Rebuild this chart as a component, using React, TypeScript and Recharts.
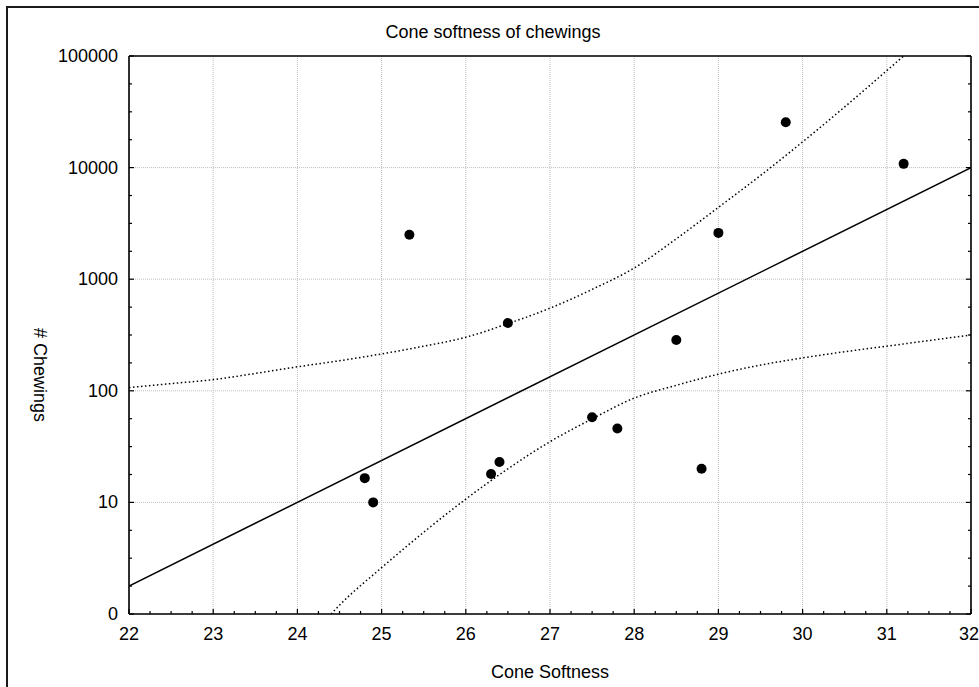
import React from 'react';
import { ComposedChart, Line, Scatter, XAxis, YAxis, CartesianGrid } from 'recharts';

// observed samples
const softness = [24.8, 24.9, 25.33, 26.3, 26.4, 26.5, 27.5, 27.8, 28.5, 28.8, 29.0, 29.8, 31.2];
const chewings = [16.5, 10, 2500, 18, 23, 405, 58, 46, 285, 20, 2600, 25500, 10800];

// fitted line (end points)
const fitX = [22, 32];
const fitY = [1.78, 10000];

// upper confidence band
const upperX = [22, 22.5, 23, 23.5, 24, 24.5, 25, 25.5, 26, 26.5, 27, 27.5, 28, 28.5, 29, 29.5, 30, 30.5, 31, 31.2];
const upperY = [107, 116, 126, 143, 164, 186, 214, 251, 302, 400, 550, 810, 1260, 2300, 4400, 8500, 17000, 35000, 74000, 100000];

// lower confidence band
const lowerX = [24.4, 24.5, 25, 25.5, 26, 26.5, 27, 27.5, 28, 28.5, 29, 29.5, 30, 30.5, 31, 31.5, 32];
const lowerY = [1, 1.2, 2.6, 5.4, 10.7, 20, 35, 56, 86, 112, 141, 170, 197, 224, 251, 282, 316];

const xTickValues = [22, 23, 24, 25, 26, 27, 28, 29, 30, 31, 32];
const xTickLabels = ['22', '23', '24', '25', '26', '27', '28', '29', '30', '31', '32'];
const yTickValues = [1, 10, 100, 1000, 10000, 100000];
const yTickLabels = ['0', '10', '100', '1000', '10000', '100000'];

const FONT = 'Arial, "Liberation Sans", sans-serif';
const TICK_FONT = 18;

const toRows = (xs: number[], ys: number[]) => xs.map((x, i) => ({ x, y: ys[i] }));
const points = toRows(softness, chewings);
const fit = toRows(fitX, fitY);
const upper = toRows(upperX, upperY);
const lower = toRows(lowerX, lowerY);

// quarter-step minor ticks between the labelled ones
const xTicks: number[] = [];
xTickValues.forEach((v, i) => {
  xTicks.push(v);
  if (i < xTickValues.length - 1) [1, 2, 3].forEach((j) => xTicks.push(v + j * 0.25));
});
const yTicks: number[] = [];
yTickValues.forEach((v, i) => {
  yTicks.push(v);
  if (i < yTickValues.length - 1) [1, 2, 3].forEach((j) => yTicks.push(v * Math.pow(10, j / 4)));
});

const MAJOR = 5;
const MINOR = 3;

function BottomTick({ x, y, payload }: any) {
  const i = xTickValues.indexOf(payload.value);
  // keep the last label inside the frame
  const tx = i === xTickValues.length - 1 ? x - 2 : x;
  return (
    <g>
      <line x1={x} y1={y} x2={x} y2={y - (i >= 0 ? MAJOR : MINOR)} stroke="#000" strokeWidth={1.2} />
      {i >= 0 && (
        <text x={tx} y={y + 20} textAnchor="middle" dominantBaseline="central" fontSize={TICK_FONT} fontFamily={FONT} fill="#000">
          {xTickLabels[i]}
        </text>
      )}
    </g>
  );
}

function TopTick({ x, y, payload }: any) {
  const major = xTickValues.indexOf(payload.value) >= 0;
  return <line x1={x} y1={y} x2={x} y2={y + (major ? MAJOR : MINOR)} stroke="#000" strokeWidth={1.2} />;
}

function LeftTick({ x, y, payload }: any) {
  const i = yTickValues.indexOf(payload.value);
  return (
    <g>
      <line x1={x} y1={y} x2={x + (i >= 0 ? MAJOR : MINOR)} y2={y} stroke="#000" strokeWidth={1.2} />
      {i >= 0 && (
        <text x={x - 11} y={y} textAnchor="end" dominantBaseline="central" fontSize={TICK_FONT} fontFamily={FONT} fill="#000">
          {yTickLabels[i]}
        </text>
      )}
    </g>
  );
}

function RightTick({ x, y, payload }: any) {
  const major = yTickValues.indexOf(payload.value) >= 0;
  return <line x1={x} y1={y} x2={x - (major ? MAJOR : MINOR)} y2={y} stroke="#000" strokeWidth={1.2} />;
}

const Dot = (p: any) => <circle cx={p.cx} cy={p.cy} r={5} fill="#000" />;

const axisLine = { stroke: '#000', strokeWidth: 1.6 };

export default function App() {
  return (
    <div style={{ position: 'absolute', left: 0, top: 0, width: 979, height: 687, overflow: 'hidden', background: '#fff', fontFamily: FONT }}>
      <div style={{ position: 'absolute', left: 6, top: 6, width: 1100, height: 800, borderLeft: '2px solid #1a1a1a', borderTop: '2px solid #1a1a1a' }} />
      <div style={{ position: 'absolute', left: 0, width: 986, top: 20, textAlign: 'center', fontSize: 18, lineHeight: '24px', color: '#000' }}>
        Cone softness of chewings
      </div>
      <div style={{ position: 'absolute', left: 0, width: 1100, top: 660, textAlign: 'center', fontSize: 18, lineHeight: '24px', color: '#000' }}>
        Cone Softness
      </div>
      <div
        style={{
          position: 'absolute',
          left: 40,
          top: 375,
          transform: 'translate(-50%, -50%) rotate(90deg)',
          whiteSpace: 'nowrap',
          fontSize: 18,
          lineHeight: '24px',
          color: '#000',
        }}
      >
        # Chewings
      </div>
      <div style={{ position: 'absolute', left: 0, top: 0 }}>
        <ComposedChart width={979} height={687} margin={{ top: 50, right: 0, bottom: 0, left: 0 }}>
          <CartesianGrid stroke="#bdbdbd" strokeDasharray="1 1" horizontalValues={yTickValues} verticalValues={xTickValues} />
          <XAxis
            dataKey="x"
            type="number"
            domain={[22, 32]}
            ticks={xTicks}
            interval={0}
            allowDataOverflow
            height={73}
            tickSize={0}
            tickMargin={0}
            tickLine={false}
            axisLine={axisLine}
            tick={<BottomTick />}
          />
          <XAxis
            xAxisId="top"
            orientation="top"
            type="number"
            domain={[22, 32]}
            ticks={xTicks}
            interval={0}
            allowDataOverflow
            height={6}
            tickSize={0}
            tickMargin={0}
            tickLine={false}
            axisLine={axisLine}
            tick={<TopTick />}
          />
          <YAxis
            dataKey="y"
            type="number"
            scale="log"
            domain={[1, 100000]}
            ticks={yTicks}
            interval={0}
            allowDataOverflow
            width={129}
            tickSize={0}
            tickMargin={0}
            tickLine={false}
            axisLine={axisLine}
            tick={<LeftTick />}
          />
          <YAxis
            yAxisId="right"
            orientation="right"
            type="number"
            scale="log"
            domain={[1, 100000]}
            ticks={yTicks}
            interval={0}
            allowDataOverflow
            width={8}
            tickSize={0}
            tickMargin={0}
            tickLine={false}
            axisLine={axisLine}
            tick={<RightTick />}
          />
          <Line data={upper} dataKey="y" type="monotone" stroke="#000" strokeWidth={1.5} strokeDasharray="1.5 2.5" dot={false} isAnimationActive={false} />
          <Line data={lower} dataKey="y" type="monotone" stroke="#000" strokeWidth={1.5} strokeDasharray="1.5 2.5" dot={false} isAnimationActive={false} />
          <Line data={fit} dataKey="y" type="linear" stroke="#000" strokeWidth={1.5} dot={false} isAnimationActive={false} />
          <Scatter data={points} dataKey="y" shape={Dot} isAnimationActive={false} />
        </ComposedChart>
      </div>
    </div>
  );
}
